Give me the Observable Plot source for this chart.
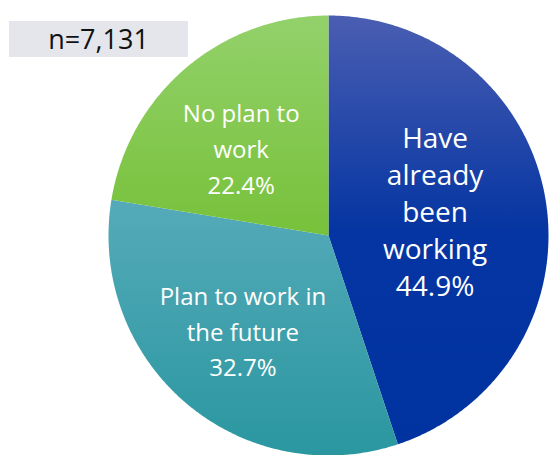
<!DOCTYPE html>
<html>
<head>
<meta charset="utf-8">
<script src="https://cdn.jsdelivr.net/npm/d3@7"></script>
<script src="https://cdn.jsdelivr.net/npm/@observablehq/plot@0.6"></script>
<style>
  html, body { margin: 0; padding: 0; background: #fff; }
  #wrap { position: relative; width: 558px; height: 455px; font-family: "Open Sans", sans-serif; }
  #nbox { position: absolute; left: 9px; top: 21px; width: 179px; height: 36px; background: #e4e6eb;
          font-size: 27px; color: #111; text-align: center; line-height: 36px; z-index: 2; }
  #chart { position: absolute; left: 0; top: 0; }
</style>
</head>
<body>
<div id="wrap"><div id="nbox"></div><div id="chart"></div></div>
<script>
// ---- data ----
const categories = ["Have already been working", "Plan to work in the future", "No plan to work"];
const labelLines = ["Have\nalready\nbeen\nworking", "Plan to work in\nthe future", "No plan to\nwork"];
const values = [44.9, 32.7, 22.4];
const sampleSize = "n=7,131";

// ---- style / layout ----
const gradients = [
  [["0%", "#4a5eb2"], ["50%", "#0535a2"], ["100%", "#0033a0"]],
  [["0%", "#55aab9"], ["100%", "#2a97a0"]],
  [["0%", "#93d16b"], ["100%", "#77c13a"]]
];
const labelRadius = [0.5, 0.585, 0.55];
const labelDx = [-2, -2, -9];
const labelDy = [-8, -4, 3];
const labelSize = [28, 24, 24];
const labelLH = [1.32, 1.48, 1.5];

document.getElementById("nbox").textContent = sampleSize;

const total = d3.sum(values);
let acc = 0;
const slices = values.map((v, i) => {
  const a0 = acc / total * 2 * Math.PI;
  acc += v;
  const a1 = acc / total * 2 * Math.PI;
  return {i, cat: categories[i], v, a0, a1};
});

// polygon points for each slice (angle clockwise from 12 o'clock)
const pts = [];
for (const s of slices) {
  pts.push({cat: s.cat, i: s.i, x: 0, y: 0});
  const n = Math.max(2, Math.ceil((s.a1 - s.a0) / (Math.PI / 360)));
  for (let k = 0; k <= n; k++) {
    const a = s.a0 + (s.a1 - s.a0) * k / n;
    pts.push({cat: s.cat, i: s.i, x: Math.sin(a), y: Math.cos(a)});
  }
  pts.push({cat: s.cat, i: s.i, x: 0, y: 0});
}

const labels = slices.map(s => {
  const m = (s.a0 + s.a1) / 2, r = labelRadius[s.i];
  return {i: s.i, x: r * Math.sin(m), y: r * Math.cos(m),
          text: labelLines[s.i] + "\n" + s.v.toFixed(1) + "%"};
});

const marks = [];
slices.forEach(s => {
  marks.push(Plot.line(pts.filter(p => p.i === s.i), {
    x: "x", y: "y", fill: `url(#grad${s.i})`, stroke: "none", curve: "linear"
  }));
});
labels.forEach(l => {
  marks.push(Plot.text([l], {
    x: "x", y: "y", text: "text", fill: "white", fontSize: labelSize[l.i],
    lineHeight: labelLH[l.i], lineAnchor: "middle", textAnchor: "middle",
    dx: labelDx[l.i], dy: labelDy[l.i], fontFamily: "Open Sans"
  }));
});

const chart = Plot.plot({
  width: 558, height: 455,
  margin: 0,
  x: {domain: [-1, 1], range: [108, 548], axis: null},
  y: {domain: [-1, 1], range: [455, 15], axis: null},
  style: {background: "transparent", fontFamily: "Open Sans"},
  marks
});

const defs = d3.select(chart).insert("defs", ":first-child");
gradients.forEach((stops, i) => {
  const g = defs.append("linearGradient").attr("id", `grad${i}`)
    .attr("x1", 0).attr("y1", 0).attr("x2", 0).attr("y2", 1);
  stops.forEach(([o, c]) => g.append("stop").attr("offset", o).attr("stop-color", c));
});

document.getElementById("chart").appendChild(chart);
</script>
</body>
</html>
